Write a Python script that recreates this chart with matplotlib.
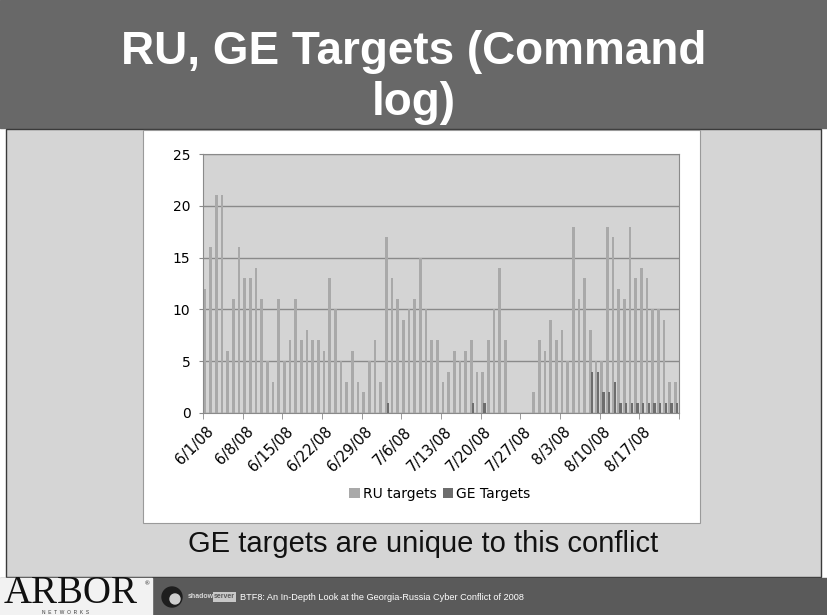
import matplotlib
import numpy as np

matplotlib.use("Agg")

import matplotlib.pyplot as plt
from matplotlib.patches import Circle, Rectangle

# daily counts, 6/1/08 .. 8/23/08 (84 days), one row per week
ru_targets = [
    12, 16, 21, 21, 6, 11, 16,
    13, 13, 14, 11, 5, 3, 11,
    5, 7, 11, 7, 8, 7, 7,
    6, 13, 10, 5, 3, 6, 3,
    2, 5, 7, 3, 17, 13, 11,
    9, 10, 11, 15, 10, 7, 7,
    3, 4, 6, 5, 6, 7, 4,
    4, 7, 10, 14, 7, 0, 0,
    0, 0, 2, 7, 6, 9, 7,
    8, 5, 18, 11, 13, 8, 5,
    5, 18, 17, 12, 11, 18, 13,
    14, 13, 10, 10, 9, 3, 3,
]
ge_targets = [
    0, 0, 0, 0, 0, 0, 0,
    0, 0, 0, 0, 0, 0, 0,
    0, 0, 0, 0, 0, 0, 0,
    0, 0, 0, 0, 0, 0, 0,
    0, 0, 0, 0, 1, 0, 0,
    0, 0, 0, 0, 0, 0, 0,
    0, 0, 0, 0, 0, 1, 0,
    1, 0, 0, 0, 0, 0, 0,
    0, 0, 0, 0, 0, 0, 0,
    0, 0, 0, 0, 0, 4, 4,
    2, 2, 3, 1, 1, 1, 1,
    1, 1, 1, 1, 1, 1, 1,
]
tick_labels = ["6/1/08", "6/8/08", "6/15/08", "6/22/08", "6/29/08", "7/6/08",
               "7/13/08", "7/20/08", "7/27/08", "8/3/08", "8/10/08", "8/17/08"]
series_names = ["RU targets", "GE Targets"]

W, H = 827, 615
RU_COLOR = "#a9a9a9"
GE_COLOR = "#6d6d6d"


def px_rect(x0, y0, x1, y1):
    """pixel box (top-left origin) -> figure fraction rect"""
    return [x0 / W, 1 - y1 / H, (x1 - x0) / W, (y1 - y0) / H]


fig = plt.figure(figsize=(W / 100, H / 100), dpi=100)
fig.patch.set_facecolor("white")

# slide background drawn in pixel coordinates
bg = fig.add_axes([0, 0, 1, 1])
bg.set_xlim(0, W)
bg.set_ylim(H, 0)
bg.axis("off")
bg.add_patch(Rectangle((0, 0), W, 128, color="#686868"))
bg.add_patch(Rectangle((6, 129), W - 12, 448, facecolor="#d5d5d5", edgecolor="#3a3a3a", lw=1))
bg.add_patch(Rectangle((143, 130), 557, 393, facecolor="white", edgecolor="#9a9a9a", lw=0.8))
bg.add_patch(Rectangle((0, 578), W, 37, color="#5a5a5a"))
bg.add_patch(Rectangle((0, 578), 152, 37, color="#f2f2f2"))

title_kw = dict(color="white", fontsize=33, fontweight="bold", family="Liberation Sans",
                ha="center", va="baseline")
bg.text(W / 2, 64, "RU, GE Targets (Command", **title_kw)
bg.text(W / 2, 115, "log)", **title_kw)

bg.text(423, 552, "GE targets are unique to this conflict", fontsize=21,
        family="Liberation Sans", color="#111111", ha="center", va="baseline")

# footer
bg.text(4, 603, "ARBOR", family="Liberation Serif", fontsize=28, color="#111111", va="baseline")
bg.text(145, 585, "®", family="Liberation Serif", fontsize=4.5, color="#111111")
bg.text(42, 614, "N  E  T  W  O  R  K  S", family="Liberation Sans", fontsize=3.5,
        color="#333333", va="baseline")
bg.add_patch(Circle((172, 597), 10, color="#1e1e1e"))
bg.add_patch(Circle((175, 599), 5, color="#cfcfcf"))
bg.text(188, 597, "shadow", family="Liberation Sans", fontsize=5, fontweight="bold",
        color="#d8d8d8", va="center")
bg.text(214, 597, "server", family="Liberation Sans", fontsize=5, fontweight="bold",
        color="#5a5a5a", va="center",
        bbox=dict(boxstyle="square,pad=0.15", facecolor="#c8c8c8", edgecolor="none"))
bg.text(240, 597, "BTF8: An In-Depth Look at the Georgia-Russia Cyber Conflict of 2008",
        family="Liberation Sans", fontsize=6.6, color="white", va="center")

# chart
ax = fig.add_axes(px_rect(203, 154, 679, 413))
x = np.arange(len(ru_targets))
b1 = ax.bar(x - 0.15, ru_targets, width=0.5, color=RU_COLOR, zorder=2)
b2 = ax.bar(x + 0.2, ge_targets, width=0.42, color=GE_COLOR, zorder=3)
ax.set_xlim(-0.5, len(ru_targets) - 0.5)
ax.set_ylim(0, 25)
ax.set_facecolor("#d4d4d4")
ax.set_yticks(range(0, 26, 5))
ax.yaxis.grid(True, color="#8a8a8a", lw=1)
ax.set_axisbelow(True)
for s in ax.spines.values():
    s.set_color("#8a8a8a")

ax.set_xticks(np.arange(len(tick_labels)) * 7)
ax.set_xticklabels(tick_labels, rotation=45, ha="right", rotation_mode="anchor", fontsize=10.5)
ax.set_xticks(np.arange(-0.5, len(ru_targets), 7), minor=True)
ax.tick_params(axis="x", which="major", length=0, pad=8)
ax.tick_params(axis="x", which="minor", length=4, color="#8a8a8a")
ax.tick_params(axis="y", length=3, color="#8a8a8a", pad=6, labelsize=10)

fig.legend([b1, b2], series_names, loc="center", bbox_to_anchor=(440 / W, 1 - 494 / H),
           ncol=2, frameon=False, fontsize=10, handlelength=0.75, handleheight=0.75,
           handletextpad=0.25, columnspacing=0.4)

fig.savefig("out.png", dpi=100)
plt.close(fig)
